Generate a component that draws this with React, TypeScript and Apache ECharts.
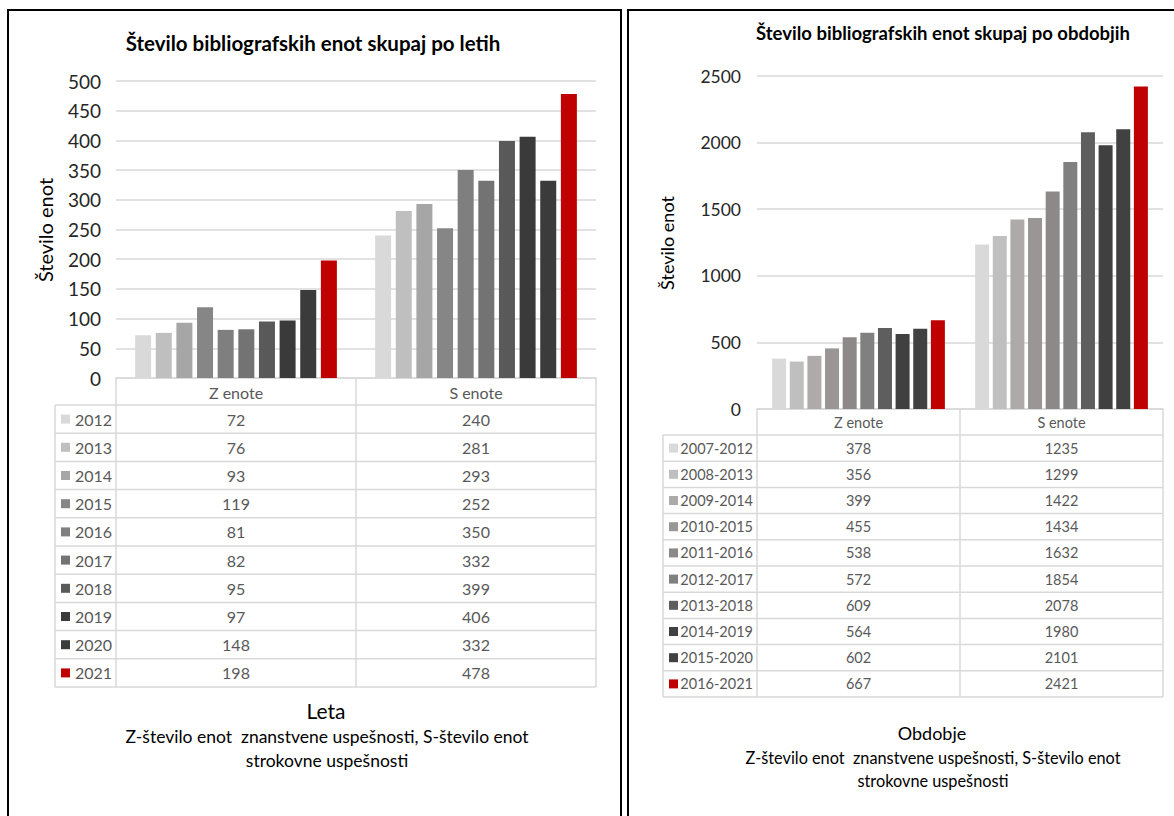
import React, { useEffect, useRef } from "react";
import * as echarts from "echarts";

const categories = ["Z enote", "S enote"];

const years = ["2012", "2013", "2014", "2015", "2016", "2017", "2018", "2019", "2020", "2021"];
const zYears = [72, 76, 93, 119, 81, 82, 95, 97, 148, 198];
const sYears = [240, 281, 293, 252, 350, 332, 399, 406, 332, 478];
const yearColors = ["#D9D9D9", "#BFBFBF", "#A6A6A6", "#868686", "#7F7F7F", "#737373", "#595959", "#3A3A3A", "#3B3B3B", "#C00000"];

const periods = ["2007-2012", "2008-2013", "2009-2014", "2010-2015", "2011-2016", "2012-2017", "2013-2018", "2014-2019", "2015-2020", "2016-2021"];
const zPeriods = [378, 356, 399, 455, 538, 572, 609, 564, 602, 667];
const sPeriods = [1235, 1299, 1422, 1434, 1632, 1854, 2078, 1980, 2101, 2421];
const periodColors = ["#D9D9D9", "#BFBFBF", "#AEAAAA", "#9A9696", "#8D8989", "#808080", "#5E5E5E", "#404040", "#414141", "#C00000"];

const leftTitle = "Število bibliografskih enot skupaj po letih";
const rightTitle = "Število bibliografskih enot skupaj po obdobjih";
const yTitle = "Število enot";
const leftXTitle = "Leta";
const rightXTitle = "Obdobje";
const noteLine1 = "Z-število enot  znanstvene uspešnosti, S-število enot";
const noteLine2 = "strokovne uspešnosti";

const FONT = "Lato, 'Open Sans', sans-serif";

type Panel = {
  gridLeft: number; gridTop: number; gridW: number; gridH: number;
  legendLeft: number; headerH: number; rowH: number; fontSize: number;
};

const L: Panel = { gridLeft: 116, gridTop: 81, gridW: 480, gridH: 297, legendLeft: 55, headerH: 27, rowH: 28.2, fontSize: 16 };
const R: Panel = { gridLeft: 757, gridTop: 76, gridW: 406, gridH: 333, legendLeft: 663, headerH: 26, rowH: 26.2, fontSize: 14.5 };

function tableGraphics(p: Panel, labels: string[], z: number[], s: number[], colors: string[]) {
  const els: any[] = [];
  const lineStyle = { stroke: "#D9D9D9", lineWidth: 1.5 };
  const top = p.gridTop + p.gridH;
  const rowsTop = top + p.headerH;
  const bottom = rowsTop + p.rowH * labels.length;
  const right = p.gridLeft + p.gridW;
  const mid = p.gridLeft + p.gridW / 2;
  els.push({ type: "line", shape: { x1: p.gridLeft, y1: top, x2: p.gridLeft, y2: bottom }, style: lineStyle, silent: true });
  els.push({ type: "line", shape: { x1: mid, y1: top, x2: mid, y2: bottom }, style: lineStyle, silent: true });
  els.push({ type: "line", shape: { x1: right, y1: top, x2: right, y2: bottom }, style: lineStyle, silent: true });
  els.push({ type: "line", shape: { x1: p.legendLeft, y1: rowsTop, x2: p.legendLeft, y2: bottom }, style: lineStyle, silent: true });
  for (let i = 0; i <= labels.length; i++) {
    const y = rowsTop + p.rowH * i;
    els.push({ type: "line", shape: { x1: p.legendLeft, y1: y, x2: right, y2: y }, style: lineStyle, silent: true });
  }
  labels.forEach((lab, i) => {
    const cy = rowsTop + p.rowH * (i + 0.5);
    els.push({ type: "rect", shape: { x: p.legendLeft + 6, y: cy - 4.5, width: 9, height: 9 }, style: { fill: colors[i] }, silent: true });
    els.push({ type: "text", x: p.gridLeft - 4, y: cy, style: { text: lab, fill: "#595959", fontSize: p.fontSize, fontFamily: FONT, align: "right", verticalAlign: "middle" }, silent: true });
    els.push({ type: "text", x: p.gridLeft + p.gridW / 4, y: cy, style: { text: String(z[i]), fill: "#595959", fontSize: p.fontSize, fontFamily: FONT, align: "center", verticalAlign: "middle" }, silent: true });
    els.push({ type: "text", x: p.gridLeft + (3 * p.gridW) / 4, y: cy, style: { text: String(s[i]), fill: "#595959", fontSize: p.fontSize, fontFamily: FONT, align: "center", verticalAlign: "middle" }, silent: true });
  });
  return { els, bottom };
}

function txt(x: number, y: number, text: string, fontSize: number, opts: any = {}) {
  return {
    type: "text", x, y, silent: true, rotation: opts.rotation || 0,
    style: { text, fill: opts.fill || "#000000", fontSize, fontFamily: FONT, fontWeight: opts.bold ? "bold" : "normal", align: "center", verticalAlign: "middle" },
  };
}

export default function App() {
  const ref = useRef<HTMLDivElement>(null);
  useEffect(() => {
    if (!ref.current) return;
    const chart = echarts.init(ref.current, null, { renderer: "svg" });

    const leftTable = tableGraphics(L, years, zYears, sYears, yearColors);
    const rightTable = tableGraphics(R, periods, zPeriods, sPeriods, periodColors);

    const mkSeries = (labels: string[], z: number[], s: number[], colors: string[], idx: number, bw: number, gap: string, catGap: string) =>
      labels.map((lab, i) => ({
        name: lab,
        type: "bar",
        xAxisIndex: idx,
        yAxisIndex: idx,
        data: [z[i], s[i]],
        barWidth: bw,
        barGap: gap,
        barCategoryGap: catGap,
        itemStyle: { color: colors[i] },
        emphasis: { disabled: true },
      }));

    const axisLabelColor = "#262626";
    const plain = (v: number) => String(v);

    const option: any = {
      animation: false,
      backgroundColor: "#ffffff",
      grid: [
        { left: L.gridLeft, top: L.gridTop, width: L.gridW, height: L.gridH, containLabel: false },
        { left: R.gridLeft, top: R.gridTop, width: R.gridW, height: R.gridH, containLabel: false },
      ],
      xAxis: [
        {
          type: "category", gridIndex: 0, data: categories,
          axisLine: { lineStyle: { color: "#D9D9D9", width: 1.5 } }, axisTick: { show: false },
          axisLabel: { color: "#595959", fontSize: 16, fontFamily: FONT, margin: 6 },
        },
        {
          type: "category", gridIndex: 1, data: categories,
          axisLine: { lineStyle: { color: "#D9D9D9", width: 1.5 } }, axisTick: { show: false },
          axisLabel: { color: "#595959", fontSize: 14.5, fontFamily: FONT, margin: 6 },
        },
      ],
      yAxis: [
        {
          type: "value", gridIndex: 0, min: 0, max: 500, interval: 50,
          axisLine: { show: false }, axisTick: { show: false },
          splitLine: { lineStyle: { color: "#D9D9D9", width: 1.5 } },
          axisLabel: { color: axisLabelColor, fontSize: 19, fontFamily: FONT, margin: 15, formatter: plain },
        },
        {
          type: "value", gridIndex: 1, min: 0, max: 2500, interval: 500,
          axisLine: { show: false }, axisTick: { show: false },
          splitLine: { lineStyle: { color: "#D9D9D9", width: 1.5 } },
          axisLabel: { color: axisLabelColor, fontSize: 17.5, fontFamily: FONT, margin: 16, formatter: plain },
        },
      ],
      series: [
        ...mkSeries(years, zYears, sYears, yearColors, 0, 16, "29%", "15%"),
        ...mkSeries(periods, zPeriods, sPeriods, periodColors, 1, 14, "26%", "15%"),
      ],
      graphic: [
        { type: "rect", shape: { x: 8, y: 10, width: 613, height: 820 }, style: { fill: "none", stroke: "#000000", lineWidth: 2 }, silent: true },
        { type: "rect", shape: { x: 628, y: 10, width: 560, height: 820 }, style: { fill: "none", stroke: "#000000", lineWidth: 2 }, silent: true },
        txt(313, 43, leftTitle, 20.5, { bold: true }),
        txt(943, 33, rightTitle, 18.5, { bold: true }),
        txt(45, 230, yTitle, 20, { rotation: Math.PI / 2 }),
        txt(667, 243, yTitle, 18, { rotation: Math.PI / 2 }),
        ...leftTable.els,
        ...rightTable.els,
        txt(326, 710, leftXTitle, 21),
        txt(327, 736, noteLine1, 17.5),
        txt(327, 760, noteLine2, 17.5),
        txt(932, 733, rightXTitle, 18),
        txt(933, 757, noteLine1, 16.3),
        txt(933, 780, noteLine2, 16.3),
      ],
    };
    chart.setOption(option);
    return () => chart.dispose();
  }, []);

  return (
    <div
      ref={ref}
      style={{ position: "absolute", left: 0, top: 0, width: 1174, height: 816, background: "#ffffff" }}
    />
  );
}
